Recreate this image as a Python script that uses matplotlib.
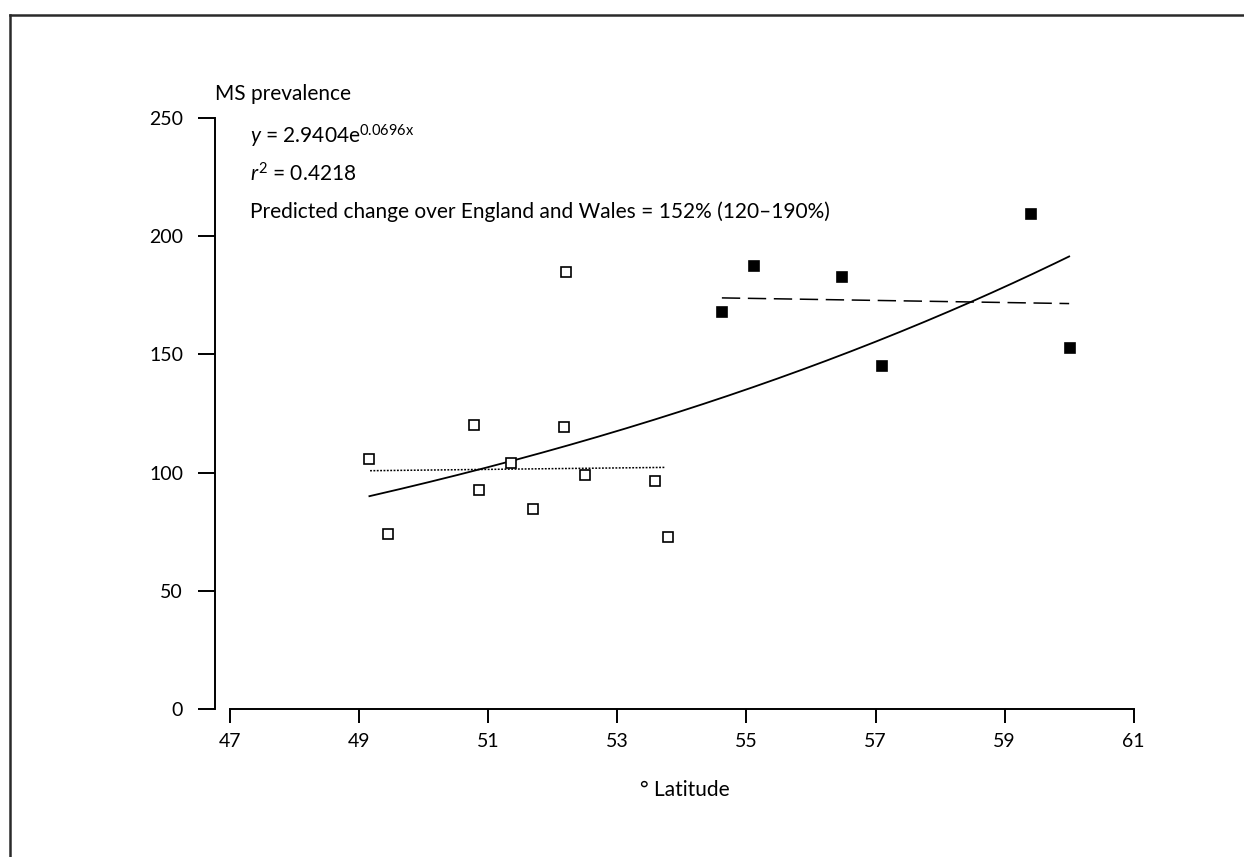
import numpy as np
import matplotlib
matplotlib.use('Agg')
import matplotlib.pyplot as plt
from matplotlib.lines import Line2D

plt.rcParams['font.family'] = ['Lato', 'DejaVu Sans']
plt.rcParams['mathtext.fontset'] = 'custom'
plt.rcParams['mathtext.rm'] = 'Lato'
plt.rcParams['mathtext.it'] = 'Lato:italic'

# southern regions (open squares)
lat_s = [49.16, 49.44, 50.78, 50.86, 51.36, 51.70, 52.20, 52.18, 52.50, 53.59, 53.79]
prev_s = [105.8, 74.0, 120.1, 92.6, 103.9, 84.5, 184.7, 119.2, 99.1, 96.3, 72.6]
# northern regions (filled squares)
lat_n = [54.62, 55.12, 56.48, 57.10, 59.41, 60.01]
prev_n = [168.1, 187.3, 182.7, 145.1, 209.4, 152.7]

# within-group trend lines (end points)
trend_s_x = [49.17, 53.73]
trend_s_y = [100.8, 102.2]
trend_n_x = [54.62, 60.0]
trend_n_y = [173.9, 171.5]

# exponential fit y = a*exp(b*x)
fit_a, fit_b = 2.9404, 0.0696
fit_range = (49.16, 60.0)

xticks = [47, 49, 51, 53, 55, 57, 59, 61]
yticks = [0, 50, 100, 150, 200, 250]

W, H = 1244, 857
fig = plt.figure(figsize=(W / 100, H / 100), dpi=100)
ax = fig.add_axes([215 / W, 1 - 709 / H, (1133.7 - 215) / W, (709 - 118) / H])

ax.set_xlim(47 - 15 / 64.5, 61)
ax.set_ylim(0, 250)

xf = np.linspace(fit_range[0], fit_range[1], 200)
ax.plot(xf, fit_a * np.exp(fit_b * xf), color='black', lw=1.3)
ax.plot(trend_s_x, trend_s_y, color='black', lw=1.1, ls=(0, (1.2, 1.0)))
ax.plot(trend_n_x, trend_n_y, color='black', lw=1.1, ls=(0, (12, 5)))

ax.plot(lat_s, prev_s, ls='none', marker='s', ms=7, mfc='white', mec='black', mew=1.2)
ax.plot(lat_n, prev_n, ls='none', marker='s', ms=7, mfc='black', mec='black', mew=1.2)

for s in ['top', 'right']:
    ax.spines[s].set_visible(False)
ax.spines['left'].set_bounds(0, 250)
ax.spines['bottom'].set_bounds(47, 61)
ax.spines['left'].set_linewidth(1.4)
ax.spines['bottom'].set_linewidth(1.4)

ax.set_xticks(xticks)
ax.set_yticks(yticks)
ax.tick_params(axis='y', length=12, width=1.4, pad=11, labelsize=14)
ax.tick_params(axis='x', length=10, width=1.4, pad=7, labelsize=14)

def px(x, y):
    return x / W, 1 - y / H

fs = 15
fig.text(*px(215, 100), 'MS prevalence', fontsize=fs, va='baseline', ha='left')
fig.text(*px(250, 143), r'$\mathit{y}$ = 2.9404e$^{\mathrm{0.0696x}}$', fontsize=fs, va='baseline', ha='left')
fig.text(*px(250, 181), r'$\mathit{r}^{\mathrm{2}}$ = 0.4218', fontsize=fs, va='baseline', ha='left')
fig.text(*px(250, 218), 'Predicted change over England and Wales = 152% (120\u2013190%)',
         fontsize=fs, va='baseline', ha='left')
fig.text(*px(685, 790), '\u00b0 Latitude', fontsize=fs, va='center', ha='center')

# outer frame (cropped box: top and left edges only)
fig.add_artist(Line2D([10 / W, 1], [1 - 15 / H, 1 - 15 / H], color='#2a2a2a', lw=1.8))
fig.add_artist(Line2D([10 / W, 10 / W], [0, 1 - 15 / H], color='#2a2a2a', lw=1.8))

fig.savefig('out.png', dpi=100)
